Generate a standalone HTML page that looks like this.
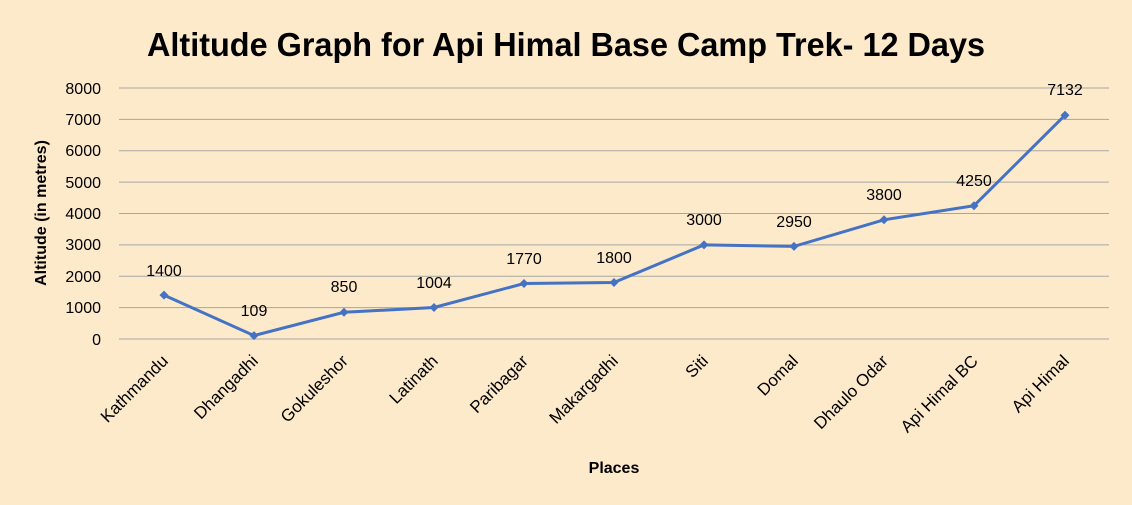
<!DOCTYPE html>
<html><head><meta charset="utf-8"><style>
html,body{margin:0;padding:0;background:#fdeacb;}
svg{display:block;font-family:"Liberation Sans",sans-serif;}
</style></head><body>
<svg width="1132" height="505" viewBox="0 0 1132 505">
<rect width="1132" height="505" fill="#fdeacb"/>
<text x="566" y="56" text-anchor="middle" font-size="33" font-weight="bold" textLength="838" lengthAdjust="spacingAndGlyphs" fill="#000">Altitude Graph for Api Himal Base Camp Trek- 12 Days</text>
<g stroke="#a6a6a6" stroke-width="1">
<line x1="119" y1="88" x2="1109" y2="88"/>
<line x1="119" y1="119.4" x2="1109" y2="119.4"/>
<line x1="119" y1="150.8" x2="1109" y2="150.8"/>
<line x1="119" y1="182.1" x2="1109" y2="182.1"/>
<line x1="119" y1="213.5" x2="1109" y2="213.5"/>
<line x1="119" y1="244.9" x2="1109" y2="244.9"/>
<line x1="119" y1="276.3" x2="1109" y2="276.3"/>
<line x1="119" y1="307.6" x2="1109" y2="307.6"/>
<line x1="119" y1="339" x2="1109" y2="339"/>
</g>
<g font-size="16" text-anchor="end" fill="#000">
<text x="101" y="94">8000</text><text x="101" y="125">7000</text><text x="101" y="156">6000</text>
<text x="101" y="188">5000</text><text x="101" y="219">4000</text><text x="101" y="250">3000</text>
<text x="101" y="282">2000</text><text x="101" y="313">1000</text><text x="101" y="345">0</text>
</g>
<text transform="translate(46,213) rotate(-90)" text-anchor="middle" font-size="16" font-weight="bold">Altitude (in metres)</text>
<text x="614" y="473" text-anchor="middle" font-size="16" font-weight="bold">Places</text>
<polyline fill="none" stroke="#4472c4" stroke-width="3" points="164,295.1 254,335.6 344,312.3 434,307.5 524,283.5 614,282.5 704,244.9 794,246.4 884,219.8 974,205.7 1065,115.2"/>
<g fill="#4472c4">
<path d="M164,290.6l4.5,4.5l-4.5,4.5l-4.5,-4.5z"/>
<path d="M254,331.1l4.5,4.5l-4.5,4.5l-4.5,-4.5z"/>
<path d="M344,307.8l4.5,4.5l-4.5,4.5l-4.5,-4.5z"/>
<path d="M434,303l4.5,4.5l-4.5,4.5l-4.5,-4.5z"/>
<path d="M524,279l4.5,4.5l-4.5,4.5l-4.5,-4.5z"/>
<path d="M614,278l4.5,4.5l-4.5,4.5l-4.5,-4.5z"/>
<path d="M704,240.4l4.5,4.5l-4.5,4.5l-4.5,-4.5z"/>
<path d="M794,241.9l4.5,4.5l-4.5,4.5l-4.5,-4.5z"/>
<path d="M884,215.3l4.5,4.5l-4.5,4.5l-4.5,-4.5z"/>
<path d="M974,201.2l4.5,4.5l-4.5,4.5l-4.5,-4.5z"/>
<path d="M1065,110.7l4.5,4.5l-4.5,4.5l-4.5,-4.5z"/>
</g>
<g font-size="16" text-anchor="middle" fill="#000">
<text x="164" y="276">1400</text><text x="254" y="316">109</text><text x="344" y="292">850</text>
<text x="434" y="288">1004</text><text x="524" y="264">1770</text><text x="614" y="263">1800</text>
<text x="704" y="225">3000</text><text x="794" y="227">2950</text><text x="884" y="200">3800</text>
<text x="974" y="186">4250</text><text x="1065" y="95">7132</text>
</g>
<g font-size="17" text-anchor="end" fill="#000">
<text transform="translate(169,362) rotate(-45)">Kathmandu</text>
<text transform="translate(259,362) rotate(-45)">Dhangadhi</text>
<text transform="translate(349,362) rotate(-45)">Gokuleshor</text>
<text transform="translate(439,362) rotate(-45)">Latinath</text>
<text transform="translate(529,362) rotate(-45)">Paribagar</text>
<text transform="translate(619,362) rotate(-45)">Makargadhi</text>
<text transform="translate(709,362) rotate(-45)">Siti</text>
<text transform="translate(799,362) rotate(-45)">Domal</text>
<text transform="translate(889,362) rotate(-45)">Dhaulo Odar</text>
<text transform="translate(979,362) rotate(-45)">Api Himal BC</text>
<text transform="translate(1070,362) rotate(-45)">Api Himal</text>
</g>
</svg>
</body></html>
